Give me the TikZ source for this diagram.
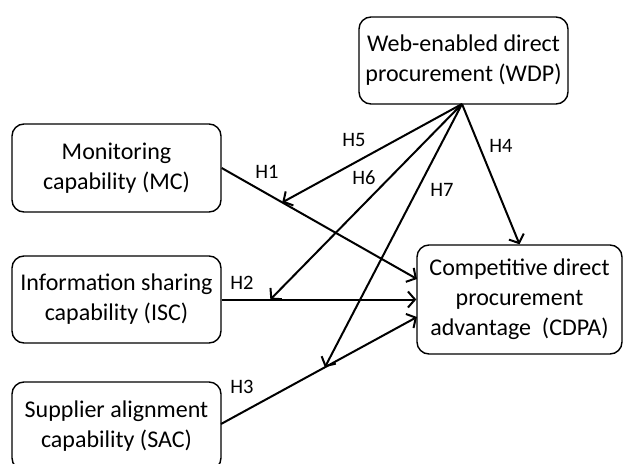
\documentclass[tikz,border=0pt]{standalone}
\usepackage{fontspec}
\setmainfont{Carlito}
\usetikzlibrary{arrows.meta,calc}
\begin{document}
\begin{tikzpicture}[x=1pt,y=-1pt,
  box/.style={draw,line width=1.4pt,rounded corners=12pt,align=center,font=\fontsize{24}{30}\selectfont,inner sep=0pt},
  hyp/.style={font=\fontsize{20.5}{24}\selectfont,inner sep=0pt},
  conn/.style={line width=2pt,-{Straight Barb[length=7pt,width=16pt,line width=2pt]}}]
\useasboundingbox (0,0) rectangle (623,463);
\node[box,minimum width=209pt,minimum height=87pt] (WDP) at (463.5,60.5) {Web-enabled direct\\procurement (WDP)};
\node[box,minimum width=209pt,minimum height=88pt] (MC) at (116.5,168) {Monitoring\\capability (MC)};
\node[box,minimum width=209pt,minimum height=87pt] (ISC) at (116.5,299.5) {Information sharing\\capability (ISC)};
\node[box,minimum width=209pt,minimum height=88pt] (SAC) at (116.5,426) {Supplier alignment\\capability (SAC)};
\node[box,minimum width=205pt,minimum height=109pt] (CDPA) at (519.5,299.5) {Competitive direct\\procurement\\advantage~~(CDPA)};
\coordinate (c1) at (417,279);
\coordinate (c3) at (417,317);
\coordinate (s3) at (221,424);
\coordinate (apex) at (462,104);
\draw[conn] (MC.east) -- (c1);
\draw[conn] (ISC.east) -- (CDPA.west);
\draw[conn] (s3) -- (c3);
\coordinate (m1) at ($(MC.east)!0.31!(c1)$);
\coordinate (m2) at ($(ISC.east)!0.25!(CDPA.west)$);
\coordinate (m3) at ($(s3)!0.53!(c3)$);
\draw[conn] (apex) -- (m1);
\draw[conn] (apex) -- (m2);
\draw[conn] (apex) -- (m3);
\draw[conn] (apex) -- (CDPA.north);
\node[hyp] (h1) at (267,172) {H1};
\node[hyp] (h2) at (242,283) {H2};
\node[hyp] (h3) at (242,387) {H3};
\node[hyp] (h4) at (501,146) {H4};
\node[hyp] (h5) at (354,140) {H5};
\node[hyp] (h6) at (364,178) {H6};
\node[hyp] (h7) at (442,190) {H7};
\end{tikzpicture}
\end{document}
